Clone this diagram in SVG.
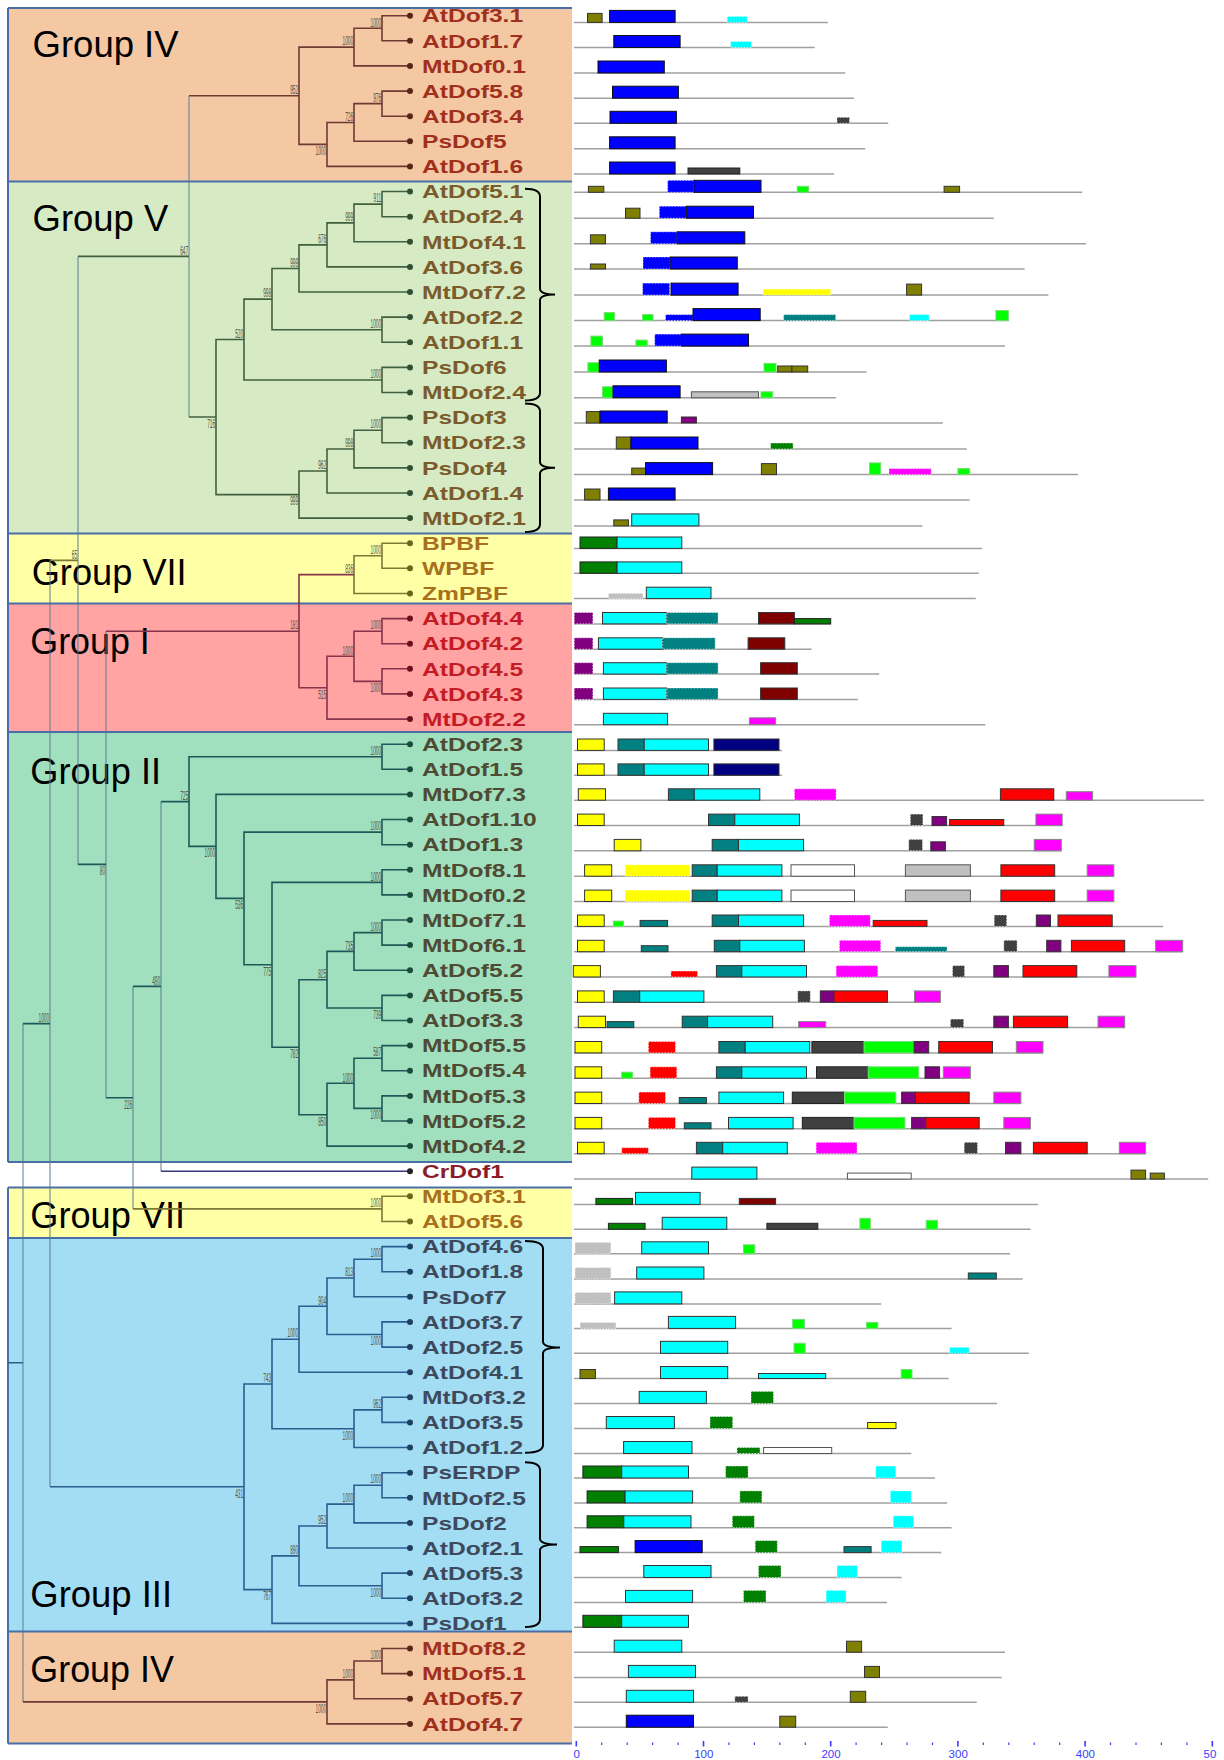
<svg xmlns="http://www.w3.org/2000/svg" width="1224" height="1760" viewBox="0 0 1224 1760">
<style>
.ln{stroke:#a0a0a0;stroke-width:1.5;fill:none}
rect{stroke-width:1}
.b{fill:#0000ff;stroke:#111}
.c{fill:#00ffff;stroke:#333}
.o{fill:#808000;stroke:#333}
.g{fill:#00ff00;stroke:#7d7}
.dg{fill:#404040;stroke:#222}
.y{fill:#ffff00;stroke:#333}
.t{fill:#008080;stroke:#333}
.lg{fill:#c0c0c0;stroke:#555}
.p{fill:#800080;stroke:#333}
.dn{fill:#008000;stroke:#222}
.m{fill:#ff00ff;stroke:#888}
.mr{fill:#800000;stroke:#333}
.nv{fill:#000080;stroke:#333}
.r{fill:#ff0000;stroke:#333}
.w{fill:#ffffff;stroke:#555}
.dt{stroke:#ffffff;stroke-dasharray:1.5 1.5;stroke-opacity:.7}
.tr{fill:none;stroke-width:1.6}
.k4{stroke:#6e3a33}.k5{stroke:#41603f}.k7{stroke:#7b7a35}.k1{stroke:#86334c}.k2{stroke:#1f5858}.k3{stroke:#2c5d8e}.kc{stroke:#37377a}
.kd{stroke:#5a7a90;stroke-opacity:.75;stroke-width:1.3}
.bs{font-family:"Liberation Sans",Arial,sans-serif;font-size:13px;fill:#55554a;text-anchor:end}
.lb{font-family:"Liberation Sans",Arial,sans-serif;font-weight:bold;font-size:18.5px}
.gl{font-family:"Liberation Sans",Arial,sans-serif;font-size:37px;fill:#000}
.c4{fill:#a0301d}.c5{fill:#7b5b2c}.c7{fill:#a86f1c}.c1{fill:#c41b25}.c2{fill:#4e4a33}.cr{fill:#8e1b2b}.c3{fill:#3e4a5c}
.q4{fill:#5a2418}.q5{fill:#2f4f35}.q7{fill:#6b6520}.q1{fill:#6e0f1c}.q2{fill:#1c4a3a}.qr{fill:#222}.q3{fill:#1f3f5e}
.ax{stroke:#3b3bff}
.axt{font-family:"Liberation Sans",Arial,sans-serif;font-size:11.5px;fill:#3b3bff;text-anchor:middle}
.br{fill:none;stroke:#000;stroke-width:2}
</style>
<rect width="1224" height="1760" fill="#ffffff"/>
<g id="bands">
<rect x="8" y="8" width="564" height="173.5" fill="#f5c8a4"/>
<rect x="8" y="181.5" width="564" height="352" fill="#d6ebc3"/>
<rect x="8" y="533.5" width="564" height="70" fill="#ffffa6"/>
<rect x="8" y="603.5" width="564" height="128.5" fill="#ffa3a3"/>
<rect x="8" y="732" width="564" height="430" fill="#a1e0be"/>
<rect x="8" y="1187.5" width="564" height="50.5" fill="#ffffa6"/>
<rect x="8" y="1238" width="564" height="393.5" fill="#a2ddf4"/>
<rect x="8" y="1631.5" width="564" height="112" fill="#f5c8a4"/>
<path d="M8 8H572M8 181.5H572M8 533.5H572M8 603.5H572M8 732H572M8 1162H572M8 1187.5H572M8 1238H572M8 1631.5H572M8 1743.5H572M8 8V1162M8 1187.5V1743.5" stroke="#4a6fa8" stroke-width="2" fill="none"/>
</g>
<g id="group-labels">
<text class="gl" x="32.6" y="56.8" textLength="146" lengthAdjust="spacingAndGlyphs">Group IV</text>
<text class="gl" x="32.6" y="230.7" textLength="135.7" lengthAdjust="spacingAndGlyphs">Group V</text>
<text class="gl" x="31.7" y="585" textLength="155" lengthAdjust="spacingAndGlyphs">Group VII</text>
<text class="gl" x="30.3" y="654.4" textLength="119.5" lengthAdjust="spacingAndGlyphs">Group I</text>
<text class="gl" x="30.3" y="783.8" textLength="130.7" lengthAdjust="spacingAndGlyphs">Group II</text>
<text class="gl" x="30.3" y="1228" textLength="154.7" lengthAdjust="spacingAndGlyphs">Group VII</text>
<text class="gl" x="30.3" y="1607" textLength="141.7" lengthAdjust="spacingAndGlyphs">Group III</text>
<text class="gl" x="30.3" y="1682.4" textLength="143.6" lengthAdjust="spacingAndGlyphs">Group IV</text>
</g>
<g id="connectors">
<path class="tr k4" d="M410 15.7H382V40.8H410M382 28.25H354V65.9H410M410 91.1H382V116.2H410M382 103.65H354V141.3H410M354 122.5H327V166.4H410M354 47.1H299V144.4H327M299 95.8H189"/>
<path class="tr kd" d="M189 95.8V417"/>
<path class="tr k5" d="M189 417H216M410 191.5H382V216.7H410M382 204.1H354V241.8H410M354 222.9H327V266.9H410M327 244.9H299V292H410M410 317.1H382V342.3H410M299 268.5H272V329.7H382M410 367.4H382V392.5H410M272 299.1H244V380H382M410 417.6H382V442.7H410M382 430.2H354V467.9H410M354 449H327V493H410M327 471H299V518.1H410M244 339.5H216V494.6H299M78 256.4H189"/>
<path class="tr kd" d="M78 256.4V864.4M106 631.2V1097.7M50 560.4V1486.8M161 801.6V1171.2M133 986.4V1208.9M23 1023.6V1701.9"/>
<path class="tr k7" d="M410 543.2H382V568.3H410M382 555.8H354V593.5H410M50 560.4H78M410 1196.3H382V1221.5H410M133 1208.9H382"/>
<path class="tr k1" d="M410 618.6H382V643.7H410M410 668.8H382V693.9H410M382 631.2H354V681.4H382M354 656.3H327V719.1H410M354 574.6H299V687.7H327M106 631.2H299"/>
<path class="tr k2" d="M78 864.4H106M106 1097.7H133M410 744.2H382V769.3H410M410 819.5H382V844.7H410M410 869.8H382V894.9H410M410 920H382V945.1H410M382 932.6H354V970.3H410M410 995.4H382V1020.5H410M354 951.4H327V1008H382M410 1045.6H382V1070.7H410M410 1095.9H382V1121H410M382 1058.2H354V1108.4H382M354 1083.3H327V1146.1H410M327 979.7H299V1114.7H327M382 882.4H272V1047.2H299M382 832.1H244V964.8H272M410 794.4H216V898.4H244M382 756.8H189V846.4H216M189 801.6H161M161 986.4H133M23 1023.6H50"/>
<path class="tr kc" d="M161 1171.2H410"/>
<path class="tr k3" d="M8 1362.7H23M50 1486.8H244M410 1246.6H382V1271.7H410M382 1259.2H354V1296.8H410M410 1321.9H382V1347.1H410M354 1278H327V1334.5H382M327 1306.3H299V1372.2H410M410 1397.3H382V1422.4H410M382 1409.9H354V1447.5H410M299 1339.2H272V1428.7H354M410 1472.7H382V1497.8H410M382 1485.2H354V1522.9H410M354 1504.1H327V1548H410M410 1573.1H382V1598.3H410M327 1526H299V1585.7H382M299 1555.9H272V1623.4H410M272 1384H244V1589.6H272"/>
<path class="tr k4" d="M23 1701.9H327M410 1648.5H382V1673.6H410M382 1661H354V1698.7H410M354 1679.9H327V1723.9H410"/>
</g>
<g id="bootstrap">
<text class="bs" transform="translate(381.2,26.5) scale(0.37,1)">1000</text>
<text class="bs" transform="translate(353.2,45.3) scale(0.37,1)">1000</text>
<text class="bs" transform="translate(381.2,101.9) scale(0.37,1)">976</text>
<text class="bs" transform="translate(353.2,120.7) scale(0.37,1)">726</text>
<text class="bs" transform="translate(326.2,155.2) scale(0.37,1)">1000</text>
<text class="bs" transform="translate(298.2,94) scale(0.37,1)">952</text>
<text class="bs" transform="translate(188.2,254.6) scale(0.37,1)">647</text>
<text class="bs" transform="translate(381.2,202.3) scale(0.37,1)">911</text>
<text class="bs" transform="translate(353.2,221.1) scale(0.37,1)">999</text>
<text class="bs" transform="translate(326.2,243.1) scale(0.37,1)">676</text>
<text class="bs" transform="translate(298.2,266.7) scale(0.37,1)">999</text>
<text class="bs" transform="translate(381.2,327.9) scale(0.37,1)">1000</text>
<text class="bs" transform="translate(271.2,297.3) scale(0.37,1)">998</text>
<text class="bs" transform="translate(381.2,378.2) scale(0.37,1)">1000</text>
<text class="bs" transform="translate(243.2,337.7) scale(0.37,1)">520</text>
<text class="bs" transform="translate(381.2,428.4) scale(0.37,1)">1000</text>
<text class="bs" transform="translate(353.2,447.2) scale(0.37,1)">998</text>
<text class="bs" transform="translate(326.2,469.2) scale(0.37,1)">962</text>
<text class="bs" transform="translate(298.2,505.4) scale(0.37,1)">999</text>
<text class="bs" transform="translate(215.2,427.8) scale(0.37,1)">716</text>
<text class="bs" transform="translate(77.2,558.6) scale(0.37,1)">65</text>
<text class="bs" transform="translate(381.2,554) scale(0.37,1)">1000</text>
<text class="bs" transform="translate(353.2,572.8) scale(0.37,1)">836</text>
<text class="bs" transform="translate(298.2,629.4) scale(0.37,1)">181</text>
<text class="bs" transform="translate(381.2,629.4) scale(0.37,1)">1000</text>
<text class="bs" transform="translate(353.2,654.5) scale(0.37,1)">1000</text>
<text class="bs" transform="translate(381.2,692.2) scale(0.37,1)">1000</text>
<text class="bs" transform="translate(326.2,698.5) scale(0.37,1)">515</text>
<text class="bs" transform="translate(105.2,875.2) scale(0.37,1)">80</text>
<text class="bs" transform="translate(381.2,755) scale(0.37,1)">1000</text>
<text class="bs" transform="translate(188.2,799.8) scale(0.37,1)">725</text>
<text class="bs" transform="translate(215.2,857.2) scale(0.37,1)">1000</text>
<text class="bs" transform="translate(381.2,830.3) scale(0.37,1)">1000</text>
<text class="bs" transform="translate(243.2,909.2) scale(0.37,1)">536</text>
<text class="bs" transform="translate(381.2,880.6) scale(0.37,1)">1000</text>
<text class="bs" transform="translate(271.2,975.6) scale(0.37,1)">775</text>
<text class="bs" transform="translate(381.2,930.8) scale(0.37,1)">1000</text>
<text class="bs" transform="translate(353.2,949.6) scale(0.37,1)">735</text>
<text class="bs" transform="translate(326.2,977.9) scale(0.37,1)">825</text>
<text class="bs" transform="translate(381.2,1018.8) scale(0.37,1)">739</text>
<text class="bs" transform="translate(298.2,1058) scale(0.37,1)">782</text>
<text class="bs" transform="translate(381.2,1056.4) scale(0.37,1)">587</text>
<text class="bs" transform="translate(353.2,1081.5) scale(0.37,1)">1000</text>
<text class="bs" transform="translate(381.2,1119.2) scale(0.37,1)">1000</text>
<text class="bs" transform="translate(326.2,1125.5) scale(0.37,1)">850</text>
<text class="bs" transform="translate(160.2,984.6) scale(0.37,1)">490</text>
<text class="bs" transform="translate(132.2,1108.5) scale(0.37,1)">226</text>
<text class="bs" transform="translate(49.2,1021.8) scale(0.37,1)">1000</text>
<text class="bs" transform="translate(381.2,1207.1) scale(0.37,1)">1000</text>
<text class="bs" transform="translate(381.2,1257.4) scale(0.37,1)">1000</text>
<text class="bs" transform="translate(353.2,1276.2) scale(0.37,1)">813</text>
<text class="bs" transform="translate(381.2,1345.3) scale(0.37,1)">1000</text>
<text class="bs" transform="translate(326.2,1304.5) scale(0.37,1)">904</text>
<text class="bs" transform="translate(298.2,1337.4) scale(0.37,1)">1000</text>
<text class="bs" transform="translate(381.2,1408.1) scale(0.37,1)">962</text>
<text class="bs" transform="translate(353.2,1439.5) scale(0.37,1)">1000</text>
<text class="bs" transform="translate(271.2,1382.2) scale(0.37,1)">743</text>
<text class="bs" transform="translate(381.2,1483.4) scale(0.37,1)">1000</text>
<text class="bs" transform="translate(353.2,1502.3) scale(0.37,1)">1000</text>
<text class="bs" transform="translate(326.2,1524.2) scale(0.37,1)">952</text>
<text class="bs" transform="translate(381.2,1596.5) scale(0.37,1)">1000</text>
<text class="bs" transform="translate(298.2,1554.1) scale(0.37,1)">890</text>
<text class="bs" transform="translate(271.2,1600.4) scale(0.37,1)">767</text>
<text class="bs" transform="translate(243.2,1497.6) scale(0.37,1)">431</text>
<text class="bs" transform="translate(381.2,1659.2) scale(0.37,1)">1000</text>
<text class="bs" transform="translate(353.2,1678.1) scale(0.37,1)">1000</text>
<text class="bs" transform="translate(326.2,1712.7) scale(0.37,1)">1000</text>
</g>
<g id="braces">
<path class="br" d="M525 188.7Q540 188.7 540 196.7V288.5Q540 294.5 555 294.5Q540 294.5 540 300.5V392.5Q540 400.5 525 400.5"/>
<path class="br" d="M525 403.6Q540 403.6 540 411.6V461.7Q540 467.7 555 467.7Q540 467.7 540 473.7V524Q540 532 525 532"/>
<path class="br" d="M525 1241.1Q543 1241.1 543 1249.1V1341.5Q543 1347.5 560 1347.5Q543 1347.5 543 1353.5V1444.8Q543 1452.8 525 1452.8"/>
<path class="br" d="M525 1462.3Q540 1462.3 540 1470.3V1538.6Q540 1544.6 557 1544.6Q540 1544.6 540 1550.6V1618.9Q540 1626.9 525 1626.9"/>
</g>
<g id="t_AtDof3_1"><circle class="q4" cx="410" cy="15.7" r="3"/><text class="lb c4" transform="translate(422,22.4) scale(1.33,1)">AtDof3.1</text>
<path class="ln" d="M574 22.4H827.8"/><rect class="o" x="587.5" y="13.4" width="14.6" height="9"/><rect class="b" x="609.6" y="10.4" width="65.5" height="12"/><rect class="c dt" x="727.2" y="16.4" width="20.1" height="6"/></g>
<g id="t_AtDof1_7"><circle class="q4" cx="410" cy="40.8" r="3"/><text class="lb c4" transform="translate(422,47.5) scale(1.33,1)">AtDof1.7</text>
<path class="ln" d="M574 47.5H814.8"/><rect class="b" x="613.8" y="35.5" width="66.3" height="12"/><rect class="c dt" x="730.6" y="41.5" width="20.8" height="6"/></g>
<g id="t_MtDof0_1"><circle class="q4" cx="410" cy="65.9" r="3"/><text class="lb c4" transform="translate(422,72.6) scale(1.33,1)">MtDof0.1</text>
<path class="ln" d="M574 73H845.3"/><rect class="b" x="598" y="61" width="66.3" height="12"/></g>
<g id="t_AtDof5_8"><circle class="q4" cx="410" cy="91.1" r="3"/><text class="lb c4" transform="translate(422,97.8) scale(1.33,1)">AtDof5.8</text>
<path class="ln" d="M574 98.2H854"/><rect class="b" x="612.5" y="86.2" width="65.9" height="12"/></g>
<g id="t_AtDof3_4"><circle class="q4" cx="410" cy="116.2" r="3"/><text class="lb c4" transform="translate(422,122.9) scale(1.33,1)">AtDof3.4</text>
<path class="ln" d="M574 123.3H888.2"/><rect class="b" x="610" y="111.3" width="66.4" height="12"/><rect class="dg dt" x="837" y="117.3" width="12.5" height="6"/></g>
<g id="t_PsDof5"><circle class="q4" cx="410" cy="141.3" r="3"/><text class="lb c4" transform="translate(422,148) scale(1.33,1)">PsDof5</text>
<path class="ln" d="M574 148.8H865.3"/><rect class="b" x="609.6" y="136.8" width="65.5" height="12"/></g>
<g id="t_AtDof1_6"><circle class="q4" cx="410" cy="166.4" r="3"/><text class="lb c4" transform="translate(422,173.1) scale(1.33,1)">AtDof1.6</text>
<path class="ln" d="M574 174H834"/><rect class="b" x="609.6" y="162" width="65.5" height="12"/><rect class="dg" x="688" y="168" width="51.8" height="6"/></g>
<g id="t_AtDof5_1"><circle class="q5" cx="410" cy="191.5" r="3"/><text class="lb c5" transform="translate(422,198.2) scale(1.33,1)">AtDof5.1</text>
<path class="ln" d="M574 192.3H1082.2"/><rect class="o" x="588.4" y="186.3" width="15.4" height="6"/><rect class="b dt" x="667.6" y="180.3" width="26.3" height="12"/><rect class="b" x="693.9" y="180.3" width="67.1" height="12"/><rect class="g" x="797.3" y="186.3" width="11.3" height="6"/><rect class="o" x="944.1" y="186.3" width="15.5" height="6"/></g>
<g id="t_AtDof2_4"><circle class="q5" cx="410" cy="216.7" r="3"/><text class="lb c5" transform="translate(422,223.4) scale(1.33,1)">AtDof2.4</text>
<path class="ln" d="M574 218.2H993.8"/><rect class="o" x="625.5" y="208.2" width="14.5" height="10"/><rect class="b dt" x="659.3" y="206.2" width="27.1" height="12"/><rect class="b" x="686.4" y="206.2" width="67.1" height="12"/></g>
<g id="t_MtDof4_1"><circle class="q5" cx="410" cy="241.8" r="3"/><text class="lb c5" transform="translate(422,248.5) scale(1.33,1)">MtDof4.1</text>
<path class="ln" d="M574 243.8H1086"/><rect class="o" x="590.4" y="234.8" width="15.1" height="9"/><rect class="b dt" x="650.5" y="231.8" width="26.7" height="12"/><rect class="b" x="677.2" y="231.8" width="67.6" height="12"/></g>
<g id="t_AtDof3_6"><circle class="q5" cx="410" cy="266.9" r="3"/><text class="lb c5" transform="translate(422,273.6) scale(1.33,1)">AtDof3.6</text>
<path class="ln" d="M574 269H1024.6"/><rect class="o" x="590.4" y="264" width="15.1" height="5"/><rect class="b dt" x="643" y="257" width="27.1" height="12"/><rect class="b" x="670.1" y="257" width="67.2" height="12"/></g>
<g id="t_MtDof7_2"><circle class="q5" cx="410" cy="292" r="3"/><text class="lb c5" transform="translate(422,298.7) scale(1.33,1)">MtDof7.2</text>
<path class="ln" d="M574 295.1H1048.4"/><rect class="b dt" x="642.6" y="283.1" width="27.1" height="12"/><rect class="b" x="671" y="283.1" width="67.1" height="12"/><rect class="y dt" x="763.1" y="289.1" width="67.6" height="6"/><rect class="o" x="906.6" y="284.1" width="15" height="11"/></g>
<g id="t_AtDof2_2"><circle class="q5" cx="410" cy="317.1" r="3"/><text class="lb c5" transform="translate(422,323.8) scale(1.33,1)">AtDof2.2</text>
<path class="ln" d="M574 320.6H1008.8"/><rect class="g" x="604.2" y="312.6" width="10.4" height="8"/><rect class="g" x="642.6" y="314.6" width="10.4" height="6"/><rect class="b dt" x="665.5" y="314.6" width="27.5" height="6"/><rect class="b" x="693" y="308.6" width="67.2" height="12"/><rect class="t dt" x="783.6" y="314.6" width="52.1" height="6"/><rect class="c dt" x="909.5" y="314.6" width="19.6" height="6"/><rect class="g" x="995.9" y="310.6" width="12.5" height="10"/></g>
<g id="t_AtDof1_1"><circle class="q5" cx="410" cy="342.3" r="3"/><text class="lb c5" transform="translate(422,349) scale(1.33,1)">AtDof1.1</text>
<path class="ln" d="M574 346.1H1005"/><rect class="g" x="590.9" y="336.1" width="11.6" height="10"/><rect class="g" x="635.9" y="340.1" width="11.3" height="6"/><rect class="b dt" x="654.7" y="334.1" width="26.7" height="12"/><rect class="b" x="681.4" y="334.1" width="67.1" height="12"/></g>
<g id="t_PsDof6"><circle class="q5" cx="410" cy="367.4" r="3"/><text class="lb c5" transform="translate(422,374.1) scale(1.33,1)">PsDof6</text>
<path class="ln" d="M574 372H866.6"/><rect class="g" x="587.9" y="362.7" width="11.3" height="9.3"/><rect class="b" x="599.2" y="360" width="67.2" height="12"/><rect class="g" x="764" y="363.4" width="12" height="8.6"/><rect class="o" x="777.7" y="366" width="14.2" height="6"/><rect class="o" x="791.9" y="366" width="15.8" height="6"/></g>
<g id="t_MtDof2_4"><circle class="q5" cx="410" cy="392.5" r="3"/><text class="lb c5" transform="translate(422,399.2) scale(1.33,1)">MtDof2.4</text>
<path class="ln" d="M574 397.8H836.1"/><rect class="g" x="602.5" y="386.8" width="10.5" height="11"/><rect class="b" x="613" y="385.8" width="67.1" height="12"/><rect class="lg" x="691.4" y="391.8" width="67.1" height="6"/><rect class="g" x="761" y="391.8" width="11.7" height="6"/></g>
<g id="t_PsDof3"><circle class="q5" cx="410" cy="417.6" r="3"/><text class="lb c5" transform="translate(422,424.3) scale(1.33,1)">PsDof3</text>
<path class="ln" d="M574 423H942.9"/><rect class="o" x="586.3" y="411.6" width="13.7" height="11.4"/><rect class="b" x="600" y="411" width="67.2" height="12"/><rect class="p" x="681.4" y="417" width="15" height="6"/></g>
<g id="t_MtDof2_3"><circle class="q5" cx="410" cy="442.7" r="3"/><text class="lb c5" transform="translate(422,449.4) scale(1.33,1)">MtDof2.3</text>
<path class="ln" d="M574 449H966.7"/><rect class="o" x="616.3" y="437" width="14.6" height="12"/><rect class="b" x="630.9" y="437" width="67.1" height="12"/><rect class="dn dt" x="770.6" y="443" width="22.5" height="6"/></g>
<g id="t_PsDof4"><circle class="q5" cx="410" cy="467.9" r="3"/><text class="lb c5" transform="translate(422,474.6) scale(1.33,1)">PsDof4</text>
<path class="ln" d="M574 474.6H1078"/><rect class="o" x="631.7" y="468.1" width="13.8" height="6.5"/><rect class="b" x="645.5" y="462.6" width="67.1" height="12"/><rect class="o" x="761.4" y="463.6" width="15.1" height="11"/><rect class="g" x="869.5" y="462.9" width="11.2" height="11.7"/><rect class="m dt" x="889" y="468.6" width="42.2" height="6"/><rect class="g" x="957.9" y="468.6" width="11.7" height="6"/></g>
<g id="t_AtDof1_4"><circle class="q5" cx="410" cy="493" r="3"/><text class="lb c5" transform="translate(422,499.7) scale(1.33,1)">AtDof1.4</text>
<path class="ln" d="M574 500H969.6"/><rect class="o" x="584.6" y="489" width="15.4" height="11"/><rect class="b" x="608.4" y="488" width="66.7" height="12"/></g>
<g id="t_MtDof2_1"><circle class="q5" cx="410" cy="518.1" r="3"/><text class="lb c5" transform="translate(422,524.8) scale(1.33,1)">MtDof2.1</text>
<path class="ln" d="M574 525.9H922.4"/><rect class="o" x="613.8" y="519.9" width="14.6" height="6"/><rect class="c" x="631.7" y="513.9" width="67.2" height="12"/></g>
<g id="t_BPBF"><circle class="q7" cx="410" cy="543.2" r="3"/><text class="lb c7" transform="translate(422,549.9) scale(1.33,1)">BPBF</text>
<path class="ln" d="M574 548.4H982.1"/><rect class="dn" x="580" y="537" width="37.1" height="11.4"/><rect class="c" x="617.1" y="537" width="64.7" height="11.4"/></g>
<g id="t_WPBF"><circle class="q7" cx="410" cy="568.3" r="3"/><text class="lb c7" transform="translate(422,575) scale(1.33,1)">WPBF</text>
<path class="ln" d="M574 573.3H978.8"/><rect class="dn" x="580" y="561.9" width="37.1" height="11.4"/><rect class="c" x="617.1" y="561.9" width="64.7" height="11.4"/></g>
<g id="t_ZmPBF"><circle class="q7" cx="410" cy="593.5" r="3"/><text class="lb c7" transform="translate(422,600.2) scale(1.33,1)">ZmPBF</text>
<path class="ln" d="M574 598.6H975.8"/><rect class="lg dt" x="608.4" y="593.3" width="34.6" height="5.3"/><rect class="c" x="646.3" y="587.2" width="64.7" height="11.4"/></g>
<g id="t_AtDof4_4"><circle class="q1" cx="410" cy="618.6" r="3"/><text class="lb c1" transform="translate(422,625.3) scale(1.33,1)">AtDof4.4</text>
<path class="ln" d="M574 623.9H830.7"/><rect class="p dt" x="574.2" y="612.5" width="18.7" height="11.4"/><rect class="c" x="602.5" y="612.5" width="64.3" height="11.4"/><rect class="t dt" x="666.8" y="612.5" width="51.3" height="11.4"/><rect class="mr" x="758.5" y="612.5" width="35.9" height="11.4"/><rect class="dn" x="794.4" y="618.6" width="36.3" height="5.3"/></g>
<g id="t_AtDof4_2"><circle class="q1" cx="410" cy="643.7" r="3"/><text class="lb c1" transform="translate(422,650.4) scale(1.33,1)">AtDof4.2</text>
<path class="ln" d="M574 649.2H811.5"/><rect class="p dt" x="574.2" y="637.8" width="18.7" height="11.4"/><rect class="c" x="598.4" y="637.8" width="64.2" height="11.4"/><rect class="t dt" x="662.6" y="637.8" width="52.6" height="11.4"/><rect class="mr" x="748.1" y="637.8" width="36.7" height="11.4"/></g>
<g id="t_AtDof4_5"><circle class="q1" cx="410" cy="668.8" r="3"/><text class="lb c1" transform="translate(422,675.5) scale(1.33,1)">AtDof4.5</text>
<path class="ln" d="M574 674.1H879.1"/><rect class="p dt" x="574.2" y="662.7" width="18.7" height="11.4"/><rect class="c" x="603.4" y="662.7" width="63.4" height="11.4"/><rect class="t dt" x="666.8" y="662.7" width="51.3" height="11.4"/><rect class="mr" x="760.6" y="662.7" width="36.7" height="11.4"/></g>
<g id="t_AtDof4_3"><circle class="q1" cx="410" cy="693.9" r="3"/><text class="lb c1" transform="translate(422,700.6) scale(1.33,1)">AtDof4.3</text>
<path class="ln" d="M574 699.4H857.8"/><rect class="p dt" x="574.2" y="688" width="18.7" height="11.4"/><rect class="c" x="603.4" y="688" width="63.4" height="11.4"/><rect class="t dt" x="666.8" y="688" width="51.3" height="11.4"/><rect class="mr" x="760.6" y="688" width="36.7" height="11.4"/></g>
<g id="t_MtDof2_2"><circle class="q1" cx="410" cy="719.1" r="3"/><text class="lb c1" transform="translate(422,725.8) scale(1.33,1)">MtDof2.2</text>
<path class="ln" d="M574 724.7H985.4"/><rect class="c" x="603.4" y="713.3" width="64.2" height="11.4"/><rect class="m" x="749.4" y="717.8" width="26.2" height="6.9"/></g>
<g id="t_AtDof2_3"><circle class="q2" cx="410" cy="744.2" r="3"/><text class="lb c2" transform="translate(422,750.9) scale(1.33,1)">AtDof2.3</text>
<path class="ln" d="M574 750.4H781.9"/><rect class="y" x="577.5" y="739" width="26.7" height="11.4"/><rect class="t" x="618" y="739" width="26.2" height="11.4"/><rect class="c" x="644.2" y="739" width="64.3" height="11.4"/><rect class="nv" x="713.9" y="739" width="65.1" height="11.4"/></g>
<g id="t_AtDof1_5"><circle class="q2" cx="410" cy="769.3" r="3"/><text class="lb c2" transform="translate(422,776) scale(1.33,1)">AtDof1.5</text>
<path class="ln" d="M574 775.3H781.9"/><rect class="y" x="577.5" y="763.9" width="26.7" height="11.4"/><rect class="t" x="618" y="763.9" width="26.2" height="11.4"/><rect class="c" x="644.2" y="763.9" width="64.3" height="11.4"/><rect class="nv" x="713.9" y="763.9" width="65.1" height="11.4"/></g>
<g id="t_MtDof7_3"><circle class="q2" cx="410" cy="794.4" r="3"/><text class="lb c2" transform="translate(422,801.1) scale(1.33,1)">MtDof7.3</text>
<path class="ln" d="M574 800.2H1204"/><rect class="y" x="578.3" y="788.8" width="27.2" height="11.4"/><rect class="t" x="668.4" y="788.8" width="25.9" height="11.4"/><rect class="c" x="694.3" y="788.8" width="65.5" height="11.4"/><rect class="m dt" x="794.4" y="788.8" width="41.7" height="11.4"/><rect class="r" x="1000.4" y="788.8" width="53.4" height="11.4"/><rect class="m" x="1066.3" y="791.7" width="26.3" height="8.5"/></g>
<g id="t_AtDof1_10"><circle class="q2" cx="410" cy="819.5" r="3"/><text class="lb c2" transform="translate(422,826.2) scale(1.33,1)">AtDof1.10</text>
<path class="ln" d="M574 825.5H1062.2"/><rect class="y" x="577.5" y="814.1" width="26.7" height="11.4"/><rect class="t" x="708.5" y="814.1" width="26.3" height="11.4"/><rect class="c" x="734.8" y="814.1" width="64.6" height="11.4"/><rect class="dg dt" x="910.3" y="814.1" width="12.6" height="11.4"/><rect class="p" x="932" y="816.5" width="14.6" height="9"/><rect class="r" x="949.6" y="819.5" width="54.2" height="6"/><rect class="m" x="1035.9" y="814.1" width="26.3" height="11.4"/></g>
<g id="t_AtDof1_3"><circle class="q2" cx="410" cy="844.7" r="3"/><text class="lb c2" transform="translate(422,851.4) scale(1.33,1)">AtDof1.3</text>
<path class="ln" d="M574 850.8H1061.3"/><rect class="y" x="614.2" y="839.4" width="26.7" height="11.4"/><rect class="t" x="712.2" y="839.4" width="26.3" height="11.4"/><rect class="c" x="738.5" y="839.4" width="65.1" height="11.4"/><rect class="dg dt" x="908.7" y="839.4" width="13.8" height="11.4"/><rect class="p" x="930.8" y="841.8" width="14.6" height="9"/><rect class="m" x="1034.2" y="839.4" width="27.1" height="11.4"/></g>
<g id="t_MtDof8_1"><circle class="q2" cx="410" cy="869.8" r="3"/><text class="lb c2" transform="translate(422,876.5) scale(1.33,1)">MtDof8.1</text>
<path class="ln" d="M574 876.2H1114"/><rect class="y" x="584.6" y="864.8" width="27.1" height="11.4"/><rect class="y dt" x="625.1" y="864.8" width="65" height="11.4"/><rect class="t" x="692.2" y="864.8" width="25" height="11.4"/><rect class="c" x="717.2" y="864.8" width="64.7" height="11.4"/><rect class="w" x="791" y="864.8" width="63.5" height="11.4"/><rect class="lg" x="905.4" y="864.8" width="65" height="11.4"/><rect class="r" x="1000.9" y="864.8" width="53.8" height="11.4"/><rect class="m" x="1087.2" y="864.8" width="26.7" height="11.4"/></g>
<g id="t_MtDof0_2"><circle class="q2" cx="410" cy="894.9" r="3"/><text class="lb c2" transform="translate(422,901.6) scale(1.33,1)">MtDof0.2</text>
<path class="ln" d="M574 901.5H1114"/><rect class="y" x="584.6" y="890.1" width="27.1" height="11.4"/><rect class="y dt" x="625.1" y="890.1" width="65" height="11.4"/><rect class="t" x="692.2" y="890.1" width="25" height="11.4"/><rect class="c" x="717.2" y="890.1" width="64.7" height="11.4"/><rect class="w" x="791" y="890.1" width="63.5" height="11.4"/><rect class="lg" x="905.4" y="890.1" width="65" height="11.4"/><rect class="r" x="1000.9" y="890.1" width="53.8" height="11.4"/><rect class="m" x="1087.2" y="890.1" width="26.7" height="11.4"/></g>
<g id="t_MtDof7_1"><circle class="q2" cx="410" cy="920" r="3"/><text class="lb c2" transform="translate(422,926.7) scale(1.33,1)">MtDof7.1</text>
<path class="ln" d="M574 926.4H1163.1"/><rect class="y" x="577.5" y="915" width="26.7" height="11.4"/><rect class="g" x="613.4" y="921.1" width="10" height="5.3"/><rect class="t" x="640.1" y="920.4" width="27.5" height="6"/><rect class="t" x="712.2" y="915" width="26.3" height="11.4"/><rect class="c" x="738.5" y="915" width="65.1" height="11.4"/><rect class="m dt" x="829.4" y="915" width="40.9" height="11.4"/><rect class="r" x="873.2" y="920.4" width="53.8" height="6"/><rect class="dg dt" x="994.2" y="915" width="12.5" height="11.4"/><rect class="p" x="1036.3" y="915" width="14.2" height="11.4"/><rect class="r" x="1058" y="915" width="54.2" height="11.4"/></g>
<g id="t_MtDof6_1"><circle class="q2" cx="410" cy="945.1" r="3"/><text class="lb c2" transform="translate(422,951.8) scale(1.33,1)">MtDof6.1</text>
<path class="ln" d="M574 951.7H1182.7"/><rect class="y" x="577.5" y="940.3" width="26.7" height="11.4"/><rect class="t" x="641.3" y="945.7" width="26.7" height="6"/><rect class="t" x="714.3" y="940.3" width="25.5" height="11.4"/><rect class="c" x="739.8" y="940.3" width="64.6" height="11.4"/><rect class="m dt" x="839.4" y="940.3" width="41.3" height="11.4"/><rect class="t dt" x="895.3" y="946.7" width="51.7" height="5"/><rect class="dg dt" x="1003.8" y="940.3" width="13.3" height="11.4"/><rect class="p" x="1046.7" y="940.3" width="14.2" height="11.4"/><rect class="r" x="1071.4" y="940.3" width="53.3" height="11.4"/><rect class="m" x="1155.6" y="940.3" width="27.1" height="11.4"/></g>
<g id="t_AtDof5_2"><circle class="q2" cx="410" cy="970.3" r="3"/><text class="lb c2" transform="translate(422,977) scale(1.33,1)">AtDof5.2</text>
<path class="ln" d="M574 977H1136"/><rect class="y" x="573.3" y="965.6" width="27.1" height="11.4"/><rect class="r dt" x="670.9" y="971" width="26.7" height="6"/><rect class="t" x="716.4" y="965.6" width="25.4" height="11.4"/><rect class="c" x="741.8" y="965.6" width="64.7" height="11.4"/><rect class="m dt" x="836.1" y="965.6" width="41.7" height="11.4"/><rect class="dg dt" x="952.5" y="965.6" width="12.1" height="11.4"/><rect class="p" x="993.8" y="965.6" width="14.6" height="11.4"/><rect class="r" x="1023" y="965.6" width="53.8" height="11.4"/><rect class="m" x="1108.9" y="965.6" width="27.1" height="11.4"/></g>
<g id="t_AtDof5_5"><circle class="q2" cx="410" cy="995.4" r="3"/><text class="lb c2" transform="translate(422,1002.1) scale(1.33,1)">AtDof5.5</text>
<path class="ln" d="M574 1002.3H940.4"/><rect class="y" x="577.5" y="990.9" width="26.7" height="11.4"/><rect class="t" x="613.4" y="990.9" width="26.3" height="11.4"/><rect class="c" x="639.7" y="990.9" width="64.2" height="11.4"/><rect class="dg dt" x="797.7" y="990.9" width="12.6" height="11.4"/><rect class="p" x="820.3" y="990.9" width="13.7" height="11.4"/><rect class="r" x="834" y="990.9" width="53.4" height="11.4"/><rect class="m" x="914.5" y="990.9" width="25.9" height="11.4"/></g>
<g id="t_AtDof3_3"><circle class="q2" cx="410" cy="1020.5" r="3"/><text class="lb c2" transform="translate(422,1027.2) scale(1.33,1)">AtDof3.3</text>
<path class="ln" d="M574 1027.6H1124.7"/><rect class="y" x="578.3" y="1016.2" width="27.2" height="11.4"/><rect class="t" x="607.1" y="1021.6" width="26.7" height="6"/><rect class="t" x="682.2" y="1016.2" width="25.4" height="11.4"/><rect class="c" x="707.6" y="1016.2" width="65.1" height="11.4"/><rect class="m" x="798.6" y="1021.6" width="27.1" height="6"/><rect class="dg dt" x="950.4" y="1019.1" width="13.3" height="8.5"/><rect class="p" x="993.8" y="1016.2" width="14.6" height="11.4"/><rect class="r" x="1013.4" y="1016.2" width="54.2" height="11.4"/><rect class="m" x="1098" y="1016.2" width="26.7" height="11.4"/></g>
<g id="t_MtDof5_5"><circle class="q2" cx="410" cy="1045.6" r="3"/><text class="lb c2" transform="translate(422,1052.3) scale(1.33,1)">MtDof5.5</text>
<path class="ln" d="M574 1052.9H1043"/><rect class="y" x="575" y="1041.5" width="26.7" height="11.4"/><rect class="r dt" x="648.4" y="1041.5" width="27.1" height="11.4"/><rect class="t" x="718.9" y="1041.5" width="26.3" height="11.4"/><rect class="c" x="745.2" y="1041.5" width="64.6" height="11.4"/><rect class="dg" x="811.9" y="1041.5" width="52.1" height="11.4"/><rect class="g" x="864" y="1041.5" width="50.1" height="11.4"/><rect class="p" x="914.1" y="1041.5" width="14.6" height="11.4"/><rect class="r" x="938.7" y="1041.5" width="53.8" height="11.4"/><rect class="m" x="1016.3" y="1041.5" width="26.7" height="11.4"/></g>
<g id="t_MtDof5_4"><circle class="q2" cx="410" cy="1070.7" r="3"/><text class="lb c2" transform="translate(422,1077.4) scale(1.33,1)">MtDof5.4</text>
<path class="ln" d="M574 1078.2H970.4"/><rect class="y" x="575" y="1066.8" width="26.7" height="11.4"/><rect class="g" x="621.7" y="1072.2" width="10.9" height="6"/><rect class="r dt" x="650.1" y="1066.8" width="26.7" height="11.4"/><rect class="t" x="716.4" y="1066.8" width="25.4" height="11.4"/><rect class="c" x="741.8" y="1066.8" width="64.7" height="11.4"/><rect class="dg" x="816.5" y="1066.8" width="51.7" height="11.4"/><rect class="g" x="868.2" y="1066.8" width="50.5" height="11.4"/><rect class="p" x="925" y="1066.8" width="14.6" height="11.4"/><rect class="m" x="943.3" y="1066.8" width="27.1" height="11.4"/></g>
<g id="t_MtDof5_3"><circle class="q2" cx="410" cy="1095.9" r="3"/><text class="lb c2" transform="translate(422,1102.6) scale(1.33,1)">MtDof5.3</text>
<path class="ln" d="M574 1103.5H1020.9"/><rect class="y" x="575" y="1092.1" width="26.7" height="11.4"/><rect class="r dt" x="638.8" y="1092.1" width="26.7" height="11.4"/><rect class="t" x="679.3" y="1097.5" width="27.1" height="6"/><rect class="c" x="718.9" y="1092.1" width="64.7" height="11.4"/><rect class="dg" x="792.3" y="1092.1" width="52.2" height="11.4"/><rect class="g" x="844.5" y="1092.1" width="51.3" height="11.4"/><rect class="p" x="901.6" y="1092.1" width="13.8" height="11.4"/><rect class="r" x="915.4" y="1092.1" width="53.8" height="11.4"/><rect class="m" x="993.8" y="1092.1" width="27.1" height="11.4"/></g>
<g id="t_MtDof5_2"><circle class="q2" cx="410" cy="1121" r="3"/><text class="lb c2" transform="translate(422,1127.7) scale(1.33,1)">MtDof5.2</text>
<path class="ln" d="M574 1128.8H1030.5"/><rect class="y" x="575" y="1117.4" width="26.7" height="11.4"/><rect class="r dt" x="648.4" y="1117.4" width="27.1" height="11.4"/><rect class="t" x="684.3" y="1122.8" width="26.7" height="6"/><rect class="c" x="728.5" y="1117.4" width="64.6" height="11.4"/><rect class="dg" x="802.3" y="1117.4" width="51.7" height="11.4"/><rect class="g" x="854" y="1117.4" width="50.9" height="11.4"/><rect class="p" x="911.6" y="1117.4" width="14.2" height="11.4"/><rect class="r" x="925.8" y="1117.4" width="53.4" height="11.4"/><rect class="m" x="1003.8" y="1117.4" width="26.7" height="11.4"/></g>
<g id="t_MtDof4_2"><circle class="q2" cx="410" cy="1146.1" r="3"/><text class="lb c2" transform="translate(422,1152.8) scale(1.33,1)">MtDof4.2</text>
<path class="ln" d="M574 1153.7H1145.6"/><rect class="y" x="577.5" y="1142.3" width="26.7" height="11.4"/><rect class="r dt" x="621.7" y="1147.7" width="26.7" height="6"/><rect class="t" x="696.4" y="1142.3" width="26.3" height="11.4"/><rect class="c" x="722.7" y="1142.3" width="64.6" height="11.4"/><rect class="m dt" x="816.1" y="1142.3" width="40.9" height="11.4"/><rect class="dg dt" x="964.2" y="1142.3" width="13.3" height="11.4"/><rect class="p" x="1005.5" y="1142.3" width="15.4" height="11.4"/><rect class="r" x="1033.4" y="1142.3" width="53.8" height="11.4"/><rect class="m" x="1119.3" y="1142.3" width="26.3" height="11.4"/></g>
<g id="t_CrDof1"><circle class="qr" cx="410" cy="1171.2" r="3"/><text class="lb cr" transform="translate(422,1177.9) scale(1.33,1)">CrDof1</text>
<path class="ln" d="M574 1179.1H1208.2"/><rect class="c" x="691.8" y="1167.1" width="65.1" height="12"/><rect class="w" x="847.4" y="1173.1" width="63.8" height="6"/><rect class="o" x="1131" y="1170.1" width="14.6" height="9"/><rect class="o" x="1150.2" y="1173.1" width="14.2" height="6"/></g>
<g id="t_MtDof3_1"><circle class="q7" cx="410" cy="1196.3" r="3"/><text class="lb c7" transform="translate(422,1203) scale(1.33,1)">MtDof3.1</text>
<path class="ln" d="M574 1204.4H1038"/><rect class="dn" x="595.9" y="1198.4" width="36.7" height="6"/><rect class="c" x="635.5" y="1192.4" width="64.6" height="12"/><rect class="mr" x="739.3" y="1198.4" width="36.3" height="6"/></g>
<g id="t_AtDof5_6"><circle class="q7" cx="410" cy="1221.5" r="3"/><text class="lb c7" transform="translate(422,1228.2) scale(1.33,1)">AtDof5.6</text>
<path class="ln" d="M574 1229.3H1030.5"/><rect class="dn" x="608.4" y="1223.3" width="36.7" height="6"/><rect class="c" x="662.2" y="1217.3" width="64.6" height="12"/><rect class="dg" x="766.9" y="1223.3" width="50.9" height="6"/><rect class="g" x="859.9" y="1218.3" width="10.4" height="11"/><rect class="g" x="926.2" y="1220.3" width="11.3" height="9"/></g>
<g id="t_AtDof4_6"><circle class="q3" cx="410" cy="1246.6" r="3"/><text class="lb c3" transform="translate(422,1253.3) scale(1.33,1)">AtDof4.6</text>
<path class="ln" d="M574 1253.8H1010"/><rect class="lg dt" x="575" y="1242.3" width="35.9" height="11.5"/><rect class="c" x="641.7" y="1241.8" width="66.8" height="12"/><rect class="g" x="743.5" y="1244.8" width="11.3" height="9"/></g>
<g id="t_AtDof1_8"><circle class="q3" cx="410" cy="1271.7" r="3"/><text class="lb c3" transform="translate(422,1278.4) scale(1.33,1)">AtDof1.8</text>
<path class="ln" d="M574 1279H1022.6"/><rect class="lg dt" x="575" y="1267.5" width="35.9" height="11.5"/><rect class="c" x="636.7" y="1267" width="67.2" height="12"/><rect class="t" x="968.3" y="1273" width="28" height="6"/></g>
<g id="t_PsDof7"><circle class="q3" cx="410" cy="1296.8" r="3"/><text class="lb c3" transform="translate(422,1303.5) scale(1.33,1)">PsDof7</text>
<path class="ln" d="M574 1303.9H881.2"/><rect class="lg dt" x="575" y="1292.4" width="35.9" height="11.5"/><rect class="c" x="614.6" y="1291.9" width="67.2" height="12"/></g>
<g id="t_AtDof3_7"><circle class="q3" cx="410" cy="1321.9" r="3"/><text class="lb c3" transform="translate(422,1328.6) scale(1.33,1)">AtDof3.7</text>
<path class="ln" d="M574 1328.4H951.6"/><rect class="lg dt" x="580" y="1322.4" width="35.9" height="6"/><rect class="c" x="668.4" y="1316.4" width="67.2" height="12"/><rect class="g" x="792.7" y="1319.4" width="11.7" height="9"/><rect class="g" x="866.6" y="1322.4" width="11.2" height="6"/></g>
<g id="t_AtDof2_5"><circle class="q3" cx="410" cy="1347.1" r="3"/><text class="lb c3" transform="translate(422,1353.8) scale(1.33,1)">AtDof2.5</text>
<path class="ln" d="M574 1353.3H1028.8"/><rect class="c" x="660.5" y="1341.3" width="67.2" height="12"/><rect class="g" x="794" y="1343.3" width="11.2" height="10"/><rect class="c dt" x="949.6" y="1347.3" width="19.6" height="6"/></g>
<g id="t_AtDof4_1"><circle class="q3" cx="410" cy="1372.2" r="3"/><text class="lb c3" transform="translate(422,1378.9) scale(1.33,1)">AtDof4.1</text>
<path class="ln" d="M574 1378.5H948.7"/><rect class="o" x="580" y="1369.5" width="15.4" height="9"/><rect class="c" x="660.5" y="1366.5" width="67.2" height="12"/><rect class="c" x="758.5" y="1373.5" width="67.2" height="5"/><rect class="g" x="901.2" y="1369.5" width="10.8" height="9"/></g>
<g id="t_MtDof3_2"><circle class="q3" cx="410" cy="1397.3" r="3"/><text class="lb c3" transform="translate(422,1404) scale(1.33,1)">MtDof3.2</text>
<path class="ln" d="M574 1403.4H997.1"/><rect class="c" x="639.2" y="1391.4" width="67.2" height="12"/><rect class="dn dt" x="751" y="1391.4" width="22.5" height="12"/></g>
<g id="t_AtDof3_5"><circle class="q3" cx="410" cy="1422.4" r="3"/><text class="lb c3" transform="translate(422,1429.1) scale(1.33,1)">AtDof3.5</text>
<path class="ln" d="M574 1428.5H896"/><rect class="c" x="606.3" y="1416.5" width="68.1" height="12"/><rect class="dn dt" x="710" y="1416.5" width="22.7" height="12"/><rect class="y" x="867.6" y="1422.5" width="28.4" height="6"/></g>
<g id="t_AtDof1_2"><circle class="q3" cx="410" cy="1447.5" r="3"/><text class="lb c3" transform="translate(422,1454.2) scale(1.33,1)">AtDof1.2</text>
<path class="ln" d="M574 1453.5H911.3"/><rect class="c" x="623.6" y="1441.5" width="68.4" height="12"/><rect class="dn dt" x="737" y="1447.5" width="23" height="6"/><rect class="w" x="763.6" y="1447.5" width="68.1" height="6"/></g>
<g id="t_PsERDP"><circle class="q3" cx="410" cy="1472.7" r="3"/><text class="lb c3" transform="translate(422,1479.4) scale(1.33,1)">PsERDP</text>
<path class="ln" d="M574 1478H935"/><rect class="dn" x="582.9" y="1466" width="38.8" height="12"/><rect class="c" x="621.7" y="1466" width="66.8" height="12"/><rect class="dn dt" x="725.6" y="1466" width="22.5" height="12"/><rect class="c dt" x="875.7" y="1466" width="20.1" height="12"/></g>
<g id="t_MtDof2_5"><circle class="q3" cx="410" cy="1497.8" r="3"/><text class="lb c3" transform="translate(422,1504.5) scale(1.33,1)">MtDof2.5</text>
<path class="ln" d="M574 1502.9H947.1"/><rect class="dn" x="587.1" y="1490.9" width="38" height="12"/><rect class="c" x="625.1" y="1490.9" width="67.5" height="12"/><rect class="dn dt" x="739.8" y="1490.9" width="22.1" height="12"/><rect class="c dt" x="890.3" y="1490.9" width="20.9" height="12"/></g>
<g id="t_PsDof2"><circle class="q3" cx="410" cy="1522.9" r="3"/><text class="lb c3" transform="translate(422,1529.6) scale(1.33,1)">PsDof2</text>
<path class="ln" d="M574 1527.8H951.6"/><rect class="dn" x="587.1" y="1515.8" width="36.7" height="12"/><rect class="c" x="623.8" y="1515.8" width="67.2" height="12"/><rect class="dn dt" x="732.3" y="1515.8" width="22.1" height="12"/><rect class="c dt" x="893.2" y="1515.8" width="20.5" height="12"/></g>
<g id="t_AtDof2_1"><circle class="q3" cx="410" cy="1548" r="3"/><text class="lb c3" transform="translate(422,1554.7) scale(1.33,1)">AtDof2.1</text>
<path class="ln" d="M574 1552.6H941.2"/><rect class="dn" x="580" y="1546.6" width="38.4" height="6"/><rect class="b" x="635.1" y="1540.6" width="67.1" height="12"/><rect class="dn dt" x="755.2" y="1540.6" width="22.1" height="12"/><rect class="t" x="844" y="1546.6" width="27.1" height="6"/><rect class="c dt" x="881.2" y="1540.6" width="20.8" height="12"/></g>
<g id="t_AtDof5_3"><circle class="q3" cx="410" cy="1573.1" r="3"/><text class="lb c3" transform="translate(422,1579.8) scale(1.33,1)">AtDof5.3</text>
<path class="ln" d="M574 1577.5H901.6"/><rect class="c" x="643.8" y="1565.5" width="67.2" height="12"/><rect class="dn dt" x="758.5" y="1565.5" width="22.5" height="12"/><rect class="c dt" x="837" y="1565.5" width="20.4" height="12"/></g>
<g id="t_AtDof3_2"><circle class="q3" cx="410" cy="1598.3" r="3"/><text class="lb c3" transform="translate(422,1605) scale(1.33,1)">AtDof3.2</text>
<path class="ln" d="M574 1602.4H887"/><rect class="c" x="625.5" y="1590.4" width="67.1" height="12"/><rect class="dn dt" x="743.5" y="1590.4" width="22.5" height="12"/><rect class="c dt" x="826.1" y="1590.4" width="20" height="12"/></g>
<g id="t_PsDof1"><circle class="q3" cx="410" cy="1623.4" r="3"/><text class="lb c3" transform="translate(422,1630.1) scale(1.33,1)">PsDof1</text>
<path class="ln" d="M574 1627.3H688.5"/><rect class="dn" x="582.9" y="1615.3" width="38.8" height="12"/><rect class="c" x="621.7" y="1615.3" width="66.8" height="12"/></g>
<g id="t_MtDof8_2"><circle class="q4" cx="410" cy="1648.5" r="3"/><text class="lb c4" transform="translate(422,1655.2) scale(1.33,1)">MtDof8.2</text>
<path class="ln" d="M574 1652.2H1005"/><rect class="c" x="614.2" y="1640.2" width="67.6" height="12"/><rect class="o" x="846.5" y="1641.2" width="15.1" height="11"/></g>
<g id="t_MtDof5_1"><circle class="q4" cx="410" cy="1673.6" r="3"/><text class="lb c4" transform="translate(422,1680.3) scale(1.33,1)">MtDof5.1</text>
<path class="ln" d="M574 1677.4H1001.7"/><rect class="c" x="628.4" y="1665.4" width="67.1" height="12"/><rect class="o" x="864.5" y="1666.4" width="15" height="11"/></g>
<g id="t_AtDof5_7"><circle class="q4" cx="410" cy="1698.7" r="3"/><text class="lb c4" transform="translate(422,1705.4) scale(1.33,1)">AtDof5.7</text>
<path class="ln" d="M574 1702.3H976.7"/><rect class="c" x="626.3" y="1690.3" width="67.2" height="12"/><rect class="dg dt" x="734.8" y="1696.3" width="13.3" height="6"/><rect class="o" x="850.3" y="1691.3" width="15.4" height="11"/></g>
<g id="t_AtDof4_7"><circle class="q4" cx="410" cy="1723.9" r="3"/><text class="lb c4" transform="translate(422,1730.6) scale(1.33,1)">AtDof4.7</text>
<path class="ln" d="M574 1727.2H887.8"/><rect class="b" x="626.3" y="1715.2" width="67.2" height="12"/><rect class="o" x="779.8" y="1716.2" width="15.9" height="11"/></g>
<g id="axis">
<path class="ax" stroke-width="1.6" d="M576.3 1741V1746.5M703.5 1741V1746.5M830.7 1741V1746.5M957.9 1741V1746.5M1085.1 1741V1746.5M1212.3 1741V1746.5"/>
<path class="ax" stroke-width="1.2" d="M601.7 1742.5V1745M627.2 1742.5V1745M652.6 1742.5V1745M678.1 1742.5V1745M728.9 1742.5V1745M754.4 1742.5V1745M779.8 1742.5V1745M805.3 1742.5V1745M856.1 1742.5V1745M881.6 1742.5V1745M907 1742.5V1745M932.5 1742.5V1745M983.3 1742.5V1745M1008.8 1742.5V1745M1034.2 1742.5V1745M1059.7 1742.5V1745M1110.5 1742.5V1745M1136 1742.5V1745M1161.4 1742.5V1745M1186.9 1742.5V1745"/>
<text class="axt" x="576.8" y="1757.5">0</text>
<text class="axt" x="703.8" y="1757.5">100</text>
<text class="axt" x="831" y="1757.5">200</text>
<text class="axt" x="958.2" y="1757.5">300</text>
<text class="axt" x="1085.4" y="1757.5">400</text>
<text class="axt" x="1210" y="1757.5">50</text>
</g>
</svg>
